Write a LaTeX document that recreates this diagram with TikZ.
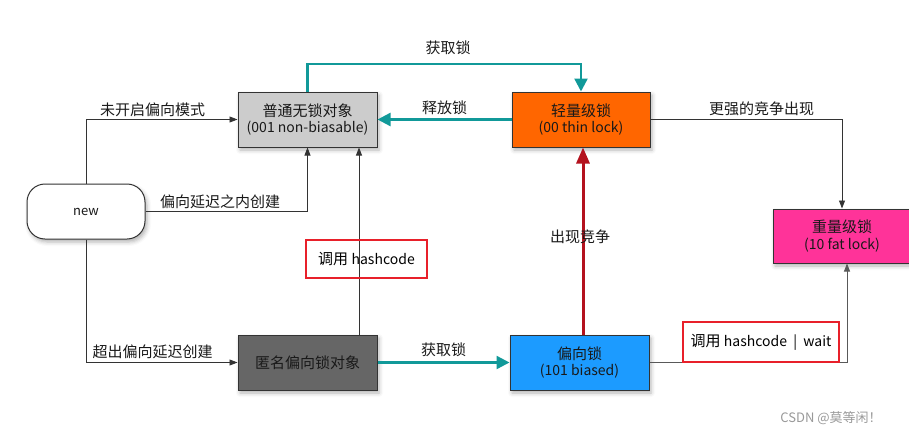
\documentclass[tikz,border=0pt]{standalone}
\usepackage{fontspec}
\setmainfont{Noto Sans CJK SC}
\usetikzlibrary{arrows.meta,shadows.blur}

\definecolor{tealc}{RGB}{17,153,153}
\definecolor{redc}{RGB}{180,18,30}
\definecolor{boxred}{RGB}{232,32,42}
\definecolor{plainfill}{RGB}{204,204,204}
\definecolor{anonfill}{RGB}{102,102,102}
\definecolor{thinfill}{RGB}{255,102,0}
\definecolor{fatfill}{RGB}{255,51,153}
\definecolor{biasfill}{RGB}{28,155,255}
\definecolor{linec}{RGB}{51,51,51}

\newcommand{\cn}{\fontsize{15}{20}\selectfont}
\newcommand{\lt}{\fontsize{14}{20}\selectfont}

\tikzset{
  state/.style={draw=linec, line width=1pt, minimum width=139pt, minimum height=55pt,
    inner sep=0pt, align=center, text=black!90,
    blur shadow={shadow xshift=2pt, shadow yshift=-3pt, shadow blur radius=4pt, shadow opacity=30}},
  conn/.style={draw=linec, line width=0.9pt, -{Triangle[length=8pt,width=6pt]}},
  tealarr/.style={draw=tealc, line width=2.4pt, -{Triangle[length=13pt,width=13pt]}},
  redarr/.style={draw=redc, line width=3pt, -{Triangle[length=16pt,width=13pt]}},
  lbl/.style={font=\cn, text=black!90, inner sep=1pt},
  notebox/.style={draw=boxred, line width=1.4pt, inner sep=0pt, font=\cn}
}

\begin{document}
\begin{tikzpicture}[x=1pt, y=-1pt]
\useasboundingbox (0,0) rectangle (909,436);

% states
\node[state, fill=plainfill] (plain) at (307.5,119.5) {\cn 普通无锁对象\\[3pt]\lt (001 non-biasable)};
\node[state, fill=thinfill, minimum width=138pt] (thin) at (581,119.5) {\cn 轻量级锁\\[3pt]\lt (00 thin lock)};
\node[state, fill=fatfill, minimum width=138pt, minimum height=54pt] (fat) at (842,236) {\cn 重量级锁\\[3pt]\lt (10 fat lock)};
\node[state, fill=white, rounded corners=18pt, minimum width=118pt] (new) at (86,211.5) {\fontsize{13}{15}\selectfont new};
\node[state, fill=anonfill] (anon) at (307.5,362.5) {\cn 匿名偏向锁对象};
\node[state, fill=biasfill] (biased) at (579.5,362.5) {\cn 偏向锁\\[3pt]\lt (101 biased)};

% turning points
\coordinate (topy) at (0,64);
\coordinate (hashx) at (359,0);
\coordinate (racex) at (583,0);
\coordinate (waitx) at (847,0);

% creation paths from new
\draw[conn] (new.north) |- node[lbl, pos=0.72, above=1pt] {未开启偏向模式} (plain.west);
\draw[conn] (new.east) -| node[lbl, pos=0.23, above=1pt] {偏向延迟之内创建} (plain.south);
\draw[conn] (new.south) |- node[lbl, pos=0.72, above=2pt] {超出偏向延迟创建} (anon.west);

% hashcode on anonymous biased object
\draw[conn] (anon.north -| hashx) -- (plain.south -| hashx);
\node[notebox, minimum width=121pt, minimum height=38pt] (hashnote) at (366.5,259) {调用 \lt hashcode};

% lock acquire / release between plain and thin
\draw[tealarr] (plain.north) -- (plain.north |- topy) -| (thin.north);
\node[lbl] (acq1) at (448,48) {获取锁};
\draw[tealarr] (thin.west) -- node[lbl, above=3pt] {释放锁} (plain.east);

% inflation to fat lock
\draw[conn] (thin.east) -| node[lbl, pos=0.29, above=2pt] {更强的竞争出现} (fat.north);

% contention on biased lock
\draw[redarr] (biased.north -| racex) -- (thin.south -| racex);
\node[lbl] (race) at (580,237) {出现竞争};

% biased acquisition
\draw[tealarr] (anon.east) -- node[lbl, above=4pt] {获取锁} (biased.west);

% hashcode / wait on biased lock
\draw[conn, draw=black!65] (biased.east) -| (fat.south -| waitx);
\node[notebox, minimum width=156pt, minimum height=40pt] (waitnote) at (761,342) {调用 \lt hashcode \ |\ \ wait};

% watermark
\node[font=\fontsize{13}{15}\selectfont, text=black!40] (mark) at (831,418) {CSDN @莫等闲！};
\end{tikzpicture}
\end{document}
